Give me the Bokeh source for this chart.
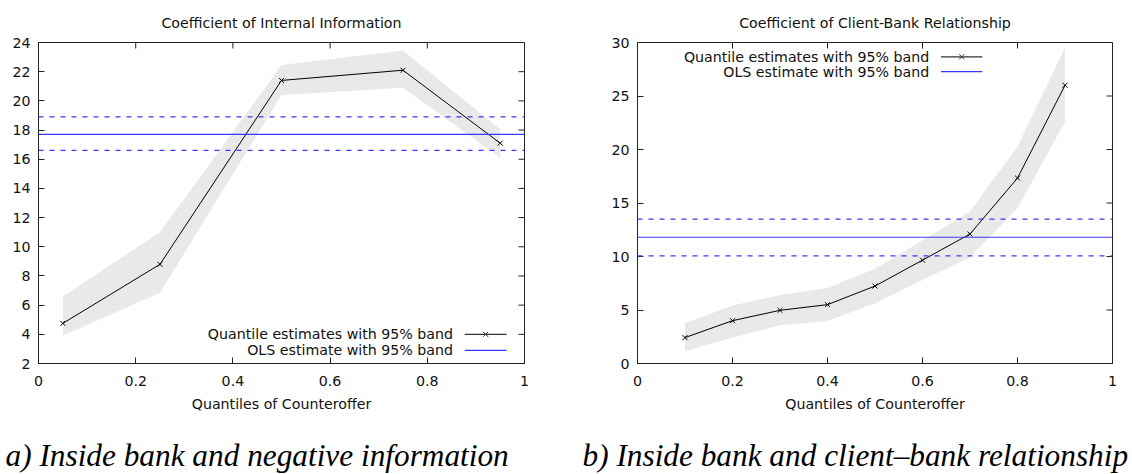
from bokeh.plotting import figure
from bokeh.models import Range1d, Span, Label, FixedTicker
from bokeh.layouts import row, column
from bokeh.embed import file_html
from bokeh.resources import INLINE
from bokeh.core.properties import value

# ---------------- data ----------------
# Panel a) Coefficient of Internal Information
a_q = [0.05, 0.25, 0.50, 0.75, 0.95]
a_est = [4.75, 8.8, 21.4, 22.1, 17.1]
a_lo = [3.9, 6.85, 20.4, 20.9, 16.1]
a_hi = [6.6, 11.0, 22.45, 23.45, 18.05]
a_ols, a_ols_lo, a_ols_hi = 17.7, 16.6, 18.9
a_yticks = [2, 4, 6, 8, 10, 12, 14, 16, 18, 20, 22, 24]

# Panel b) Coefficient of Client-Bank Relationship
b_q = [0.1, 0.2, 0.3, 0.4, 0.5, 0.6, 0.7, 0.8, 0.9]
b_est = [2.42, 4.0, 4.97, 5.5, 7.24, 9.66, 12.1, 17.33, 26.0]
b_lo = [1.15, 2.4, 3.57, 3.97, 5.62, 7.8, 9.94, 14.5, 22.6]
b_hi = [3.76, 5.43, 6.4, 7.05, 8.85, 11.5, 14.2, 20.28, 29.5]
b_ols, b_ols_lo, b_ols_hi = 11.8, 10.05, 13.5
b_yticks = [0, 5, 10, 15, 20, 25, 30]

x_ticks = [0, 0.2, 0.4, 0.6, 0.8, 1.0]
x_tick_labels = ["0", "0.2", "0.4", "0.6", "0.8", "1"]

legend_q = "Quantile estimates with 95% band"
legend_ols = "OLS estimate with 95% band"
captions = ["a) Inside bank and negative information",
            "b) Inside bank and client\u2013bank relationship"]

FONT = "DejaVu Sans"
BAND = "#e9e9e9"
BLUE = "#3a3af2"
FRAME = "#222222"
HEIGHT, TOP, BOTTOM = 420, 42, 57
CAP_H = 54
TICK = 6  # inward tick length, px


def make_panel(title, q, est, lo, hi, ols, ols_lo, ols_hi, yticks,
               ymin, ymax, width, bl, br, legend_pos):
    p = figure(width=width, height=HEIGHT, output_backend="svg", toolbar_location=None,
               x_range=Range1d(0, 1), y_range=Range1d(ymin, ymax),
               min_border_left=bl, min_border_right=br, min_border_top=TOP,
               min_border_bottom=BOTTOM)
    p.title.text = title
    p.title.align = "center"
    p.title.text_font = FONT
    p.title.text_font_style = "normal"
    p.title.text_font_size = "14.2px"
    p.title.text_color = "#111111"
    p.title.standoff = 23
    p.outline_line_color = FRAME
    p.outline_line_width = 1
    p.xgrid.visible = False
    p.ygrid.visible = False
    p.background_fill_color = "white"
    p.border_fill_color = "white"

    for ax in (p.xaxis[0], p.yaxis[0]):
        ax.major_tick_in = TICK
        ax.major_tick_out = 0
        ax.minor_tick_line_color = None
        ax.axis_line_color = None
        ax.major_label_text_font = FONT
        ax.major_label_text_font_size = "14.2px"
        ax.major_label_text_color = "#111111"
        ax.major_tick_line_color = FRAME
    p.xaxis[0].ticker = FixedTicker(ticks=x_ticks)
    p.xaxis[0].major_label_overrides = {t: l for t, l in zip(x_ticks, x_tick_labels)}
    p.xaxis[0].major_label_standoff = 12
    p.yaxis[0].ticker = FixedTicker(ticks=yticks)
    p.yaxis[0].major_label_standoff = 8
    p.xaxis[0].axis_label = "Quantiles of Counteroffer"
    p.xaxis[0].axis_label_text_font = FONT
    p.xaxis[0].axis_label_text_font_size = "14.2px"
    p.xaxis[0].axis_label_text_font_style = "normal"
    p.xaxis[0].axis_label_text_color = "#111111"
    p.xaxis[0].axis_label_standoff = 7

    # band, OLS lines, estimates
    p.varea(x=q, y1=lo, y2=hi, fill_color=BAND)
    p.add_layout(Span(location=ols, dimension="width", line_color=BLUE, line_width=1.2))
    p.add_layout(Span(location=ols_lo, dimension="width", line_color=BLUE, line_width=1.2,
                      line_dash="5 6"))
    p.add_layout(Span(location=ols_hi, dimension="width", line_color=BLUE, line_width=1.2,
                      line_dash="5 6"))
    p.line(q, est, line_color="black", line_width=1)
    p.scatter(q, est, marker="x", size=7, line_color="black", line_width=1)

    # mirrored inward tick marks on the top and right edges
    frame_w = width - bl - br
    frame_h = HEIGHT - TOP - BOTTOM
    dy = TICK * (ymax - ymin) / frame_h
    dx = TICK * 1.0 / frame_w
    p.segment(x0=x_ticks, y0=[ymax] * len(x_ticks), x1=x_ticks,
              y1=[ymax - dy] * len(x_ticks), line_color=FRAME, line_width=1)
    p.segment(x0=[1.0] * len(yticks), y0=yticks, x1=[1.0 - dx] * len(yticks),
              y1=yticks, line_color=FRAME, line_width=1)

    # manual legend (text on the left, sample on the right)
    tx, y1, y2, s0, s1 = legend_pos
    p.add_layout(Label(x=tx, y=y1, text=legend_q, text_align="right", text_baseline="middle",
                       text_font=FONT, text_font_size="14.2px", text_color="#111111"))
    p.add_layout(Label(x=tx, y=y2, text=legend_ols, text_align="right", text_baseline="middle",
                       text_font=FONT, text_font_size="14.2px", text_color="#111111"))
    p.segment(x0=[s0], y0=[y1], x1=[s1], y1=[y1], line_color="#333333", line_width=1.2)
    p.scatter(x=[(s0 + s1) / 2], y=[y1], marker="x", size=7, line_color="#333333")
    p.segment(x0=[s0], y0=[y2], x1=[s1], y1=[y2], line_color=BLUE, line_width=1.2)
    return p


pa = make_panel("Coefficient of Internal Information",
                a_q, a_est, a_lo, a_hi, a_ols, a_ols_lo, a_ols_hi, a_yticks, 2, 24,
                570, 38, 46, (0.853, 4.0, 2.9, 0.877, 0.963))
pb = make_panel("Coefficient of Client-Bank Relationship",
                b_q, b_est, b_lo, b_hi, b_ols, b_ols_lo, b_ols_hi, b_yticks, 0, 30,
                562, 67, 20, (0.614, 28.66, 27.27, 0.639, 0.726))

# caption strip below both panels (pixel-like coordinates, y downwards)
cap = figure(width=1132, height=CAP_H, output_backend="svg", toolbar_location=None,
             x_range=Range1d(0, 1132), y_range=Range1d(CAP_H, 0),
             x_axis_type=None, y_axis_type=None, min_border=0)
cap.outline_line_color = None
cap.xgrid.visible = False
cap.ygrid.visible = False
cap.text(x=[5, 582], y=[35, 35], text=captions, text_align="left", text_baseline="middle",
         text_font=value("Liberation Serif"), text_font_style="italic",
         text_font_size="31.3px", text_color="black")

layout = column(row(pa, pb), cap)
open("out.html", "w").write(file_html(layout, INLINE))
